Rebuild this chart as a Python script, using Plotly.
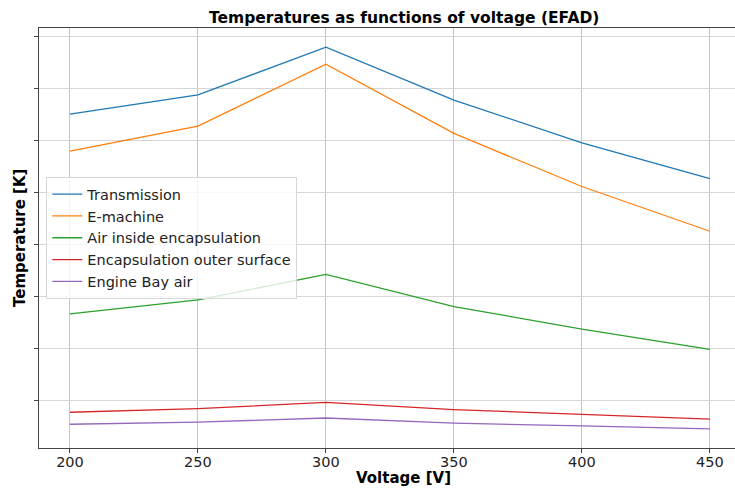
import plotly.graph_objects as go

# Operating voltages [V]
voltage = [200, 250, 300, 350, 400, 450]

# Temperatures [K] per component
transmission = [355.0, 358.7, 367.9, 357.7, 349.5, 342.6]
e_machine = [347.9, 352.7, 364.6, 351.3, 341.1, 332.5]
air_inside = [316.6, 319.3, 324.2, 318.0, 313.7, 309.8]
outer_surface = [297.7, 298.4, 299.6, 298.2, 297.3, 296.4]
engine_bay_air = [295.4, 295.8, 296.6, 295.6, 295.1, 294.5]

series = [
    ("Transmission", transmission, "#1f77b4"),
    ("E-machine", e_machine, "#ff7f0e"),
    ("Air inside encapsulation", air_inside, "#2ca02c"),
    ("Encapsulation outer surface", outer_surface, "#d62728"),
    ("Engine Bay air", engine_bay_air, "#9467bd"),
]

y_ticks = [300, 310, 320, 330, 340, 350, 360, 370]

FONT = "DejaVu Sans"

fig = go.Figure()
for i, (name, vals, color) in enumerate(series):
    fig.add_trace(go.Scatter(
        x=voltage, y=vals, name=name, mode="lines",
        line=dict(color=color, width=1.3),
    ))

all_vals = [v for _, vals, _ in series for v in vals]
lo, hi = min(all_vals), max(all_vals)
pad = 0.05 * (hi - lo)

fig.update_layout(
    width=735, height=489,
    margin=dict(l=39, r=0, t=28, b=41),
    paper_bgcolor="white", plot_bgcolor="white",
    font=dict(family=FONT, color="#222222", size=14),
    showlegend=True,
    legend=dict(
        x=0.0105, y=0.645, xanchor="left", yanchor="top",
        bgcolor="rgba(255,255,255,0.8)",
        bordercolor="#d8d8d8", borderwidth=1,
        font=dict(family=FONT, size=14.5, color="#222222"),
        itemwidth=30,
    ),
    xaxis=dict(
        range=[187.9, 459.8],
        tickvals=voltage,
        tickfont=dict(family=FONT, size=14.5, color="#222222"),
        showgrid=True, gridcolor="#c4c4c4", gridwidth=1,
        showline=True, linecolor="#444444", linewidth=1.3, mirror=True,
        ticks="outside", ticklen=4, tickcolor="#444444",
        ticklabelstandoff=-4,
        zeroline=False,
    ),
    yaxis=dict(
        range=[lo - pad, hi + pad],
        tickvals=y_ticks,
        ticktext=["" for _ in y_ticks],
        showgrid=True, gridcolor="#d6d6d6", gridwidth=1.3,
        showline=True, linecolor="#444444", linewidth=1.3,
        ticks="outside", ticklen=4, tickcolor="#444444",
        zeroline=False,
    ),
    annotations=[
        dict(text="<b>Temperatures as functions of voltage (EFAD)</b>",
             xref="paper", yref="paper", x=0.5244, y=1.024,
             xanchor="center", yanchor="middle", showarrow=False,
             font=dict(family=FONT, size=15.5, color="black")),
        dict(text="<b>Voltage [V]</b>",
             xref="paper", yref="paper", x=0.5244, y=-0.071,
             xanchor="center", yanchor="middle", showarrow=False,
             font=dict(family=FONT, size=15, color="black")),
        dict(text="<b>Temperature [K]</b>",
             xref="paper", yref="paper", x=-0.0273, y=0.5,
             xanchor="center", yanchor="middle", showarrow=False,
             textangle=-90,
             font=dict(family=FONT, size=15, color="black")),
    ],
)

fig.write_html("out.html")
